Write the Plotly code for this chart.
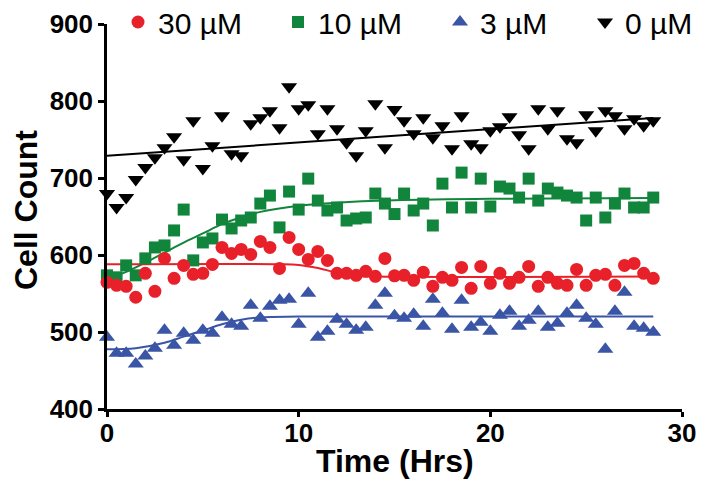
import plotly.graph_objects as go

hours = [0, 0.5, 1, 1.5, 2, 2.5, 3, 3.5, 4, 4.5, 5, 5.5, 6, 6.5, 7, 7.5, 8, 8.5, 9, 9.5,
         10, 10.5, 11, 11.5, 12, 12.5, 13, 13.5, 14, 14.5, 15, 15.5, 16, 16.5, 17, 17.5,
         18, 18.5, 19, 19.5, 20, 20.5, 21, 21.5, 22, 22.5, 23, 23.5, 24, 24.5, 25, 25.5,
         26, 26.5, 27, 27.5, 28, 28.5]

uM30 = [564.5, 560.6, 559.3, 545.1, 576.2, 552.8, 595.6, 569.7, 586.5, 574.9, 576.2, 587.8,
        609.8, 602.1, 607.3, 600.8, 617.6, 609.8, 582.6, 622.8, 607.3, 594.3, 604.7, 593.0,
        576.2, 576.2, 573.6, 578.8, 572.3, 595.6, 573.0,
        573.6, 567.1, 577.5, 559.3, 571.0, 567.1, 583.9, 556.7, 585.2, 563.2, 576.2, 563.2,
        571.0, 585.2, 559.3, 571.0, 563.2, 560.6, 581.3, 560.6, 573.6, 574.9, 560.6, 586.5,
        589.1, 576.2, 569.7]
uM10 = [573.6, 571.0, 586.5, 573.6, 595.6, 609.8, 612.4, 631.9, 659.0, 593.0, 616.3, 621.5,
        646.0, 634.5, 644.8, 648.7, 666.8, 677.2, 635.8, 682.4, 659.0, 699.2, 670.7, 657.8,
        661.7, 644.8, 647.4, 648.7, 679.8, 666.8, 653.2,
        679.8, 657.8, 666.8, 638.3, 692.7, 661.7, 707.0, 661.7, 699.2, 663.0, 688.9, 686.3,
        674.6, 699.2, 670.7, 686.3, 681.1, 677.2, 674.6, 644.8, 674.6, 648.7, 666.8, 679.8,
        661.7, 661.7, 674.6]
uM3 = [493.3, 472.5, 472.5, 458.3, 468.7, 479.0, 502.3, 482.9, 498.4, 489.4, 502.3, 498.4,
       519.2, 510.1, 507.5, 534.7, 517.9, 533.4, 541.2, 542.5, 510.1, 550.3, 493.3, 501.0,
       516.6, 510.1, 502.3, 506.2, 534.7, 550.3, 521.0,
       517.9, 523.1, 507.5, 542.5, 524.4, 503.6, 541.2, 506.2, 512.7, 501.0, 521.8, 526.9,
       507.5, 515.3, 526.9, 506.2, 511.4, 524.4, 534.7, 517.9, 510.1, 477.7, 526.9, 551.6,
       507.5, 504.9, 499.7]
uM0 = [679.8, 661.7, 674.6, 697.9, 713.5, 726.4, 739.4, 753.6, 723.8, 774.3, 712.2, 742.0,
       780.8, 731.6, 729.0, 770.5, 778.2, 787.3, 765.3, 818.4, 789.9, 795.0, 757.5, 789.9,
       764.0, 745.9, 729.0, 761.4, 796.4, 739.4, 789.0,
       774.3, 757.5, 778.2, 752.3, 767.9, 738.1, 780.8, 744.6, 739.4, 761.4, 766.6, 779.5,
       756.2, 738.1, 789.9, 764.0, 787.3, 751.0, 745.9, 782.1, 761.4, 787.3, 780.8, 764.0,
       777.0, 767.9, 774.3]

# fitted curves at a few times
fit30_t = [0, 9, 10, 11, 12, 13, 14, 28.5]
fit30_y = [588, 588, 587, 583, 577, 573, 572, 572]
fit10_t = [0, 1, 2, 3, 4, 5, 6, 7, 8, 10, 12, 15, 20, 28.5]
fit10_y = [569, 578, 590, 603, 616, 628, 640, 649, 656, 664, 668, 671, 673, 674]
fit3_t = [0, 1.5, 3, 4, 5, 6, 7, 8, 10, 28.5]
fit3_y = [477.5, 479, 486, 494, 502, 510, 516, 519, 520, 520]
fit0_t = [0, 28.5]
fit0_y = [729, 778]

names = ["30 µM", "10 µM", "3 µM", "0 µM"]
colors = ["#E8202A", "#12853C", "#3A55A6", "#000000"]
symbols = ["circle", "square", "triangle-up", "triangle-down"]
sizes = [13, 12, 14, 14]
series = [uM30, uM10, uM3, uM0]
fits = [(fit30_t, fit30_y), (fit10_t, fit10_y), (fit3_t, fit3_y), (fit0_t, fit0_y)]
legends = ["legend", "legend2", "legend3", "legend4"]

fig = go.Figure()
# draw order: black, blue, green, red (red on top)
for i in [3, 2, 1, 0]:
    ft, fy = fits[i]
    fig.add_trace(go.Scatter(x=ft, y=fy, mode="lines", line=dict(color=colors[i], width=2,
                             shape="spline" if len(ft) > 2 else "linear"),
                             showlegend=False, hoverinfo="skip", cliponaxis=False))
for i in [3, 2, 1, 0]:
    fig.add_trace(go.Scatter(x=hours, y=series[i], mode="markers", name=names[i],
                             marker=dict(symbol=symbols[i], color=colors[i], size=sizes[i],
                                         line=dict(width=0)),
                             cliponaxis=False, legend=legends[i]))

# page has an 8px body margin; figure coordinates are page coordinates minus 8
OFF = 8
W, H = 714, 487
L, T = 107 - OFF, 24 - OFF
R = W - (682 - OFF)
B = H - (409 - OFF)
pw, ph = W - L - R, H - T - B
marker_px = [140, 300, 462, 607]
legend_font = dict(family="Liberation Sans, Arial", size=30, color="black")
leg_layout = {}
for i, lg in enumerate(legends):
    leg_layout[lg] = dict(x=(marker_px[i] - OFF - 22 - L) / pw, xanchor="left",
                          y=(H - B - (22 - OFF)) / ph, yanchor="middle",
                          orientation="h", font=legend_font, bgcolor="rgba(0,0,0,0)",
                          borderwidth=0, itemclick=False)

axis_font = dict(family="Liberation Sans, Arial", size=26, color="black", weight="bold")
title_font = dict(family="Liberation Sans, Arial", size=32, color="black", weight="bold")

fig.update_layout(
    width=W, height=H,
    margin=dict(l=L, r=R, t=T, b=B, autoexpand=False),
    paper_bgcolor="white", plot_bgcolor="white",
    xaxis=dict(range=[0, 30], tickvals=[0, 10, 20, 30], showgrid=False, zeroline=False,
               showline=True, linecolor="black", linewidth=2.5, ticks="outside",
               ticklen=5, tickwidth=2.5, tickcolor="black", tickfont=axis_font,
               ticklabelstandoff=-6),
    yaxis=dict(range=[400, 900], tickvals=[400, 500, 600, 700, 800, 900], showgrid=False,
               zeroline=False, showline=True, linecolor="black", linewidth=2.5,
               ticks="outside", ticklen=6, tickwidth=2.5, tickcolor="black",
               tickfont=axis_font),
    annotations=[
        dict(text="Time (Hrs)", font=title_font, showarrow=False,
             xref="paper", yref="paper", x=0.5, xanchor="center",
             y=(H - B - (461 - OFF)) / ph, yanchor="middle"),
        dict(text="Cell Count", font=title_font, showarrow=False, textangle=-90,
             xref="paper", yref="paper", x=(26 - OFF - L) / pw, xanchor="center",
             y=(H - B - (210 - OFF)) / ph, yanchor="middle"),
    ],
    **leg_layout,
)

fig.write_html("out.html")
